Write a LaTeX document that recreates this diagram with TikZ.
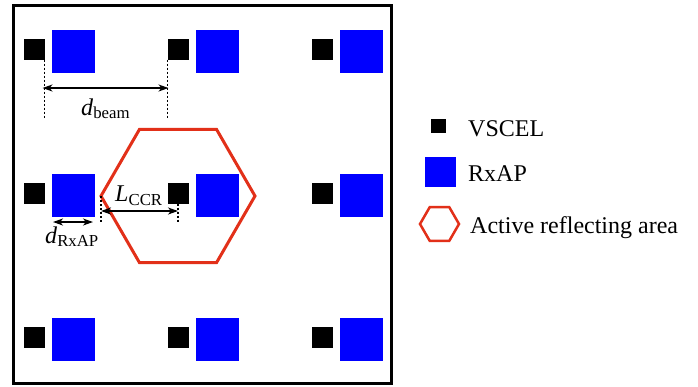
\documentclass[tikz,border=0pt]{standalone}
\usepackage{fontspec}
\setmainfont{Liberation Serif}
\usetikzlibrary{arrows.meta,calc}
\definecolor{hexred}{RGB}{226,48,25}
\definecolor{apblue}{RGB}{0,0,255}
\begin{document}
\begin{tikzpicture}[x=1pt,y=-1pt,
 vcsel/.style={fill=black,minimum width=21pt,minimum height=21pt,inner sep=0pt,outer sep=0pt},
 rxap/.style={fill=apblue,minimum size=43pt,inner sep=0pt,outer sep=0pt},
 dim/.style={line width=1.8pt,{Stealth[length=10pt,width=7pt,inset=3pt]}-{Stealth[length=10pt,width=7pt,inset=3pt]}},
 guide/.style={line width=1.3pt,dash pattern=on 2pt off 2pt},
 lbl/.style={inner sep=0pt,anchor=base west,font=\fontsize{24}{28}\selectfont},
 hexline/.style={draw=hexred,line width=3pt,line join=miter}]
\useasboundingbox (0,0) rectangle (698,386);
\node[draw,line width=3pt,minimum width=378pt,minimum height=378pt,inner sep=0pt] (frame) at (202.5,194.5) {};
\foreach \i in {1,2,3} {
  \foreach \j in {1,2,3} {
    \node[rxap] (r\j\i) at ({73.5+144*(\i-1)},{51.5+144*(\j-1)}) {};
    \node[vcsel] (v\j\i) at ({34+144*(\i-1)},{49+144*(\j-1)}) {};
  }
}
% d_beam
\coordinate (ya) at (0,88);
\coordinate (yb) at (0,118);
\draw[guide] (v11.south east) -- (v11.south east |- yb);
\draw[guide] (v12.south west) -- (v12.south west |- yb);
\draw[dim] ([xshift=-2pt]v11.south east |- ya) -- ([xshift=1pt]v12.south west |- ya);
\node[lbl] (db) at (81,115) {\textit{d}\textsubscript{beam}};
% hexagon
\coordinate (hc) at (178,196);
\draw[hexline] ([shift={(0:77)}]hc) -- ([shift={(60:77)}]hc) -- ([shift={(120:77)}]hc)
  -- ([shift={(180:77)}]hc) coordinate (hexL) -- ([shift={(240:77)}]hc) -- ([shift={(300:77)}]hc) -- cycle;
% L_CCR
\coordinate (yc) at (0,211);
\coordinate (yd) at (0,222);
\draw[guide] (hexL) -- (hexL |- yd);
\draw[guide] (v22.south) -- (v22.south |- yd);
\draw[dim] (hexL |- yc) -- (v22.south |- yc);
\node[lbl] (lc) at (115,201.5) {\textit{L}\textsubscript{CCR}};
% d_RxAP
\draw[dim] ($(r21.south west)+(1,5)$) -- ($(r21.south east)+(-2,5)$);
\node[lbl] (dr) at (45,243) {\textit{d}\textsubscript{RxAP}};
% legend
\node[fill=black,minimum width=15pt,minimum height=14pt,inner sep=0pt] (lv) at (438.5,126) {};
\node[lbl] (tv) at (468,136) {VSCEL};
\node[fill=apblue,minimum width=31pt,minimum height=30pt,inner sep=0pt] (lr) at (440.5,172) {};
\node[lbl] (tr) at (468,181) {RxAP};
\coordinate (lh) at (439.5,224);
\draw[hexline,line width=2.5pt] ([shift={(0:19.5)}]lh) -- ([shift={(60:19.5)}]lh) -- ([shift={(120:19.5)}]lh)
  -- ([shift={(180:19.5)}]lh) -- ([shift={(240:19.5)}]lh) -- ([shift={(300:19.5)}]lh) -- cycle;
\node[lbl] (ta) at (470,233) {Active reflecting area};
\end{tikzpicture}
\end{document}
